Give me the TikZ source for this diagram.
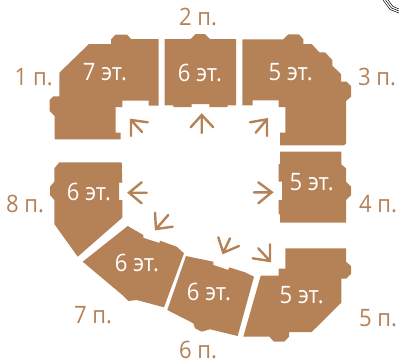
\documentclass[tikz,border=0pt]{standalone}
\usepackage{fontspec}
\setmainfont[FakeStretch=0.92]{Open Sans}
\definecolor{brick}{HTML}{B58157}
\tikzset{
  section/.style={fill=brick,draw=none},
  floors/.style={text=white,font=\fontsize{24}{24}\selectfont,inner sep=0pt},
  entr/.style={text=brick,font=\fontsize{24}{24}\selectfont,inner sep=0pt},
  dirarrow/.style={draw=brick,line width=2.4pt,line cap=round,line join=miter},
  fragment/.style={draw=black,line width=0.5pt}
}
\begin{document}
\begin{tikzpicture}[x=1pt,y=-1pt]
\useasboundingbox (0,0) rectangle (399,360);
\clip (0,0) rectangle (399,360);
% fragment top right
\draw[fragment] (383,0) -- (390,9.5) -- (399,13);
\draw[fragment] (385.5,0) -- (391.5,8) -- (399,11);
\draw[fragment] (388,0) -- (393,6.5) -- (399,9);
% sections
\fill[section] (89,44) -- (111,44) -- (111,39.5) -- (115.5,34.5) -- (127,34.5) -- (131,39) -- (158.5,39) -- (158.5,105.5) -- (148.5,105.5) -- (148.5,100.5) -- (122.3,100.5) -- (122.3,107) -- (115.7,107) -- (115.7,132.7) -- (120.7,132.7) -- (120.7,139.3) -- (54.7,139.3) -- (54.7,116) -- (49.7,111) -- (49.7,100) -- (53.3,96.3) -- (59.3,96.3) -- (59.3,72.7) -- cycle;
\fill[section] (164.7,39) -- (190.7,39) -- (195.7,34) -- (205,34) -- (210,39) -- (236,39) -- (236,105.3) -- (227.7,105.3) -- (227.7,107) -- (209.3,107) -- (209.3,104) -- (191.7,104) -- (191.7,107) -- (173.3,107) -- (173.3,105.3) -- (164.7,105.3) -- cycle;
\fill[section] (242.3,39.3) -- (283.3,39.3) -- (288.3,34.3) -- (299,34.3) -- (303.3,39.3) -- (303.3,44) -- (311.7,44) -- (319.3,52.3) -- (325,52.3) -- (332.3,60) -- (332.3,65.7) -- (341,74) -- (341,81.7) -- (346.7,81.7) -- (351,86) -- (351,96.7) -- (346,101) -- (346,143.3) -- (344,145.3) -- (280,145.3) -- (280,132.7) -- (285.3,132.7) -- (285.3,107) -- (278.7,107) -- (278.7,100.3) -- (252.7,100.3) -- (252.7,105.3) -- (242.3,105.3) -- cycle;
\fill[section] (280,151.7) -- (341.3,151.7) -- (341.3,164.3) -- (346,168.3) -- (346,181.7) -- (351,186.7) -- (351,195) -- (346,200) -- (346,222.7) -- (280,222.7) -- (280,215) -- (278.7,213.3) -- (278.7,200) -- (282,200) -- (282,181.7) -- (278.7,181.7) -- (278.7,164) -- (280,164) -- cycle;
\fill[section] (285.3,248.3) -- (346,248.3) -- (346,261.7) -- (351,266) -- (351,274) -- (346,278.7) -- (341.3,278.7) -- (341.3,302.7) -- (311.7,332) -- (289,332) -- (289,336.7) -- (284.3,341.7) -- (274,341.7) -- (269.3,336.7) -- (243.3,336.7) -- (260.7,275.7) -- (278.7,275.7) -- (278.7,268.7) -- (285.3,268.7) -- cycle;
\fill[section] (186,256) -- (213.3,261.7) -- (213.3,265) -- (228.3,270) -- (229,267.3) -- (245,272.3) -- (254,276.7) -- (237.7,336) -- (210,329.3) -- (201.7,331.7) -- (195,328.3) -- (193.3,323.3) -- (167.3,310) -- cycle;
\fill[section] (127.7,226) -- (143.3,235) -- (143.3,237.7) -- (159.3,243) -- (160,240.7) -- (176.7,246.7) -- (184,253.3) -- (164,307.3) -- (136.7,300) -- (128.3,301) -- (122.3,295) -- (82.7,261.7) -- cycle;
\fill[section] (59.3,162.3) -- (121.7,162.3) -- (122.3,182.7) -- (119,182.7) -- (119,200) -- (122.3,200) -- (122.3,217.7) -- (77.7,256.7) -- (54.3,224) -- (54.3,200) -- (50,195) -- (50,186.7) -- (54.3,181.7) -- (54.3,168.3) -- cycle;
% arrows
\draw[dirarrow] (147.7,122.3) -- (131,120) -- (131,136) (131,120) -- (142,132);
\draw[dirarrow] (190.7,127.3) -- (201.7,115) -- (213.3,127.3) (201.7,115) -- (201.7,133);
\draw[dirarrow] (250,122.3) -- (267,119.3) -- (267,136) (267,119.3) -- (255.7,132.7);
\draw[dirarrow] (141.7,182.3) -- (129,192.7) -- (141.7,203.3) (129,192.7) -- (146.7,192.7);
\draw[dirarrow] (155,212.7) -- (156,229) -- (172.7,226.7) (156,229) -- (168.3,215);
\draw[dirarrow] (258.3,182.3) -- (271.7,192.3) -- (258.3,203.3) (271.7,192.3) -- (254,192.3);
\draw[dirarrow] (218.3,237.3) -- (223.3,252.7) -- (239,246) (223.3,252.7) -- (230,238.3);
\draw[dirarrow] (270,244.3) -- (270,261) -- (252.7,258.3) (270,261) -- (258.3,248.3);
% floor labels
\node[floors] (f1) at (105,72) {7 эт.};
\node[floors] (f2) at (200,73) {6 эт.};
\node[floors] (f3) at (290.7,72) {5 эт.};
\node[floors] (f4) at (311.7,182) {5 эт.};
\node[floors] (f5) at (301.7,295) {5 эт.};
\node[floors] (f6) at (209,292) {6 эт.};
\node[floors] (f7) at (137,263) {6 эт.};
\node[floors] (f8) at (89,192) {6 эт.};
% entrance labels
\node[entr] (e1) at (33.7,77) {1 п.};
\node[entr] (e2) at (198,17) {2 п.};
\node[entr] (e3) at (377,77) {3 п.};
\node[entr] (e4) at (378,204) {4 п.};
\node[entr] (e5) at (378,318) {5 п.};
\node[entr] (e6) at (198,349.5) {6 п.};
\node[entr] (e7) at (93,315) {7 п.};
\node[entr] (e8) at (25,204) {8 п.};
\end{tikzpicture}
\end{document}
